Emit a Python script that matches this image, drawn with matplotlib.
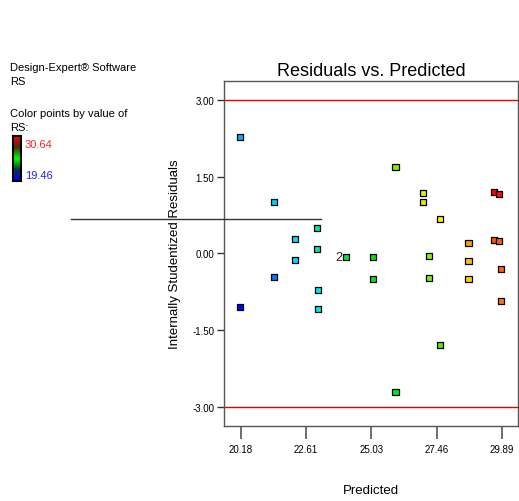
import numpy as np
import matplotlib
matplotlib.use("Agg")
import matplotlib.pyplot as plt
from matplotlib.colors import LinearSegmentedColormap
from matplotlib.lines import Line2D

plt.rcParams['font.family'] = ['Liberation Sans', 'DejaVu Sans']

# predicted value, internally studentized residual, RS value (colour)
predicted = [20.14, 20.14, 21.43, 21.43, 22.20, 22.20, 23.01, 23.01, 23.04, 23.04,
             24.09, 25.09, 25.09, 25.93, 25.93, 26.95, 26.95, 27.17, 27.17, 27.60,
             27.59, 28.64, 28.64, 28.64, 29.58, 29.76, 29.58, 29.76, 29.84, 29.84]
residuals = [2.28, -1.04, 1.00, -0.46, 0.29, -0.13, 0.50, 0.08, -0.72, -1.08,
             -0.07, -0.07, -0.49, 1.68, -2.71, 1.19, 1.00, -0.05, -0.47, 0.68,
             -1.78, 0.20, -0.15, -0.50, 1.20, 1.17, 0.27, 0.24, -0.30, -0.92]
rs_value = [21.6, 19.46, 22.0, 21.0, 22.2, 22.1, 23.3, 23.0, 22.4, 22.3,
            24.4, 25.0, 24.9, 26.5, 24.6, 27.5, 27.4, 26.6, 26.5, 27.9,
            26.0, 28.8, 28.4, 28.2, 30.64, 30.5, 29.6, 29.5, 29.5, 29.2]
rs_min, rs_max = 19.46, 30.64
x_ticks = [20.18, 22.61, 25.03, 27.46, 29.89]
y_ticks = [-3.00, -1.50, 0.00, 1.50, 3.00]
limit_lines = [3.00, -3.00]

cmap = LinearSegmentedColormap.from_list(
    'de', [(0, 0, 1), (0, 0.9, 1), (0, 0.9, 0), (1, 0.95, 0), (1, 0, 0)])
bar_cmap = LinearSegmentedColormap.from_list(
    'bar', [(0, 0, 1), (0.05, 0.2, 0.25), (0, 1, 0), (0.25, 0.2, 0.05), (1, 0, 0)])

fig = plt.figure(figsize=(5.19, 5.02), dpi=100)
ax = fig.add_axes([0.4316, 0.1488, 0.5665, 0.6885])

for y in limit_lines:
    ax.axhline(y, color='#e00000', lw=1.0, zorder=1)

ax.scatter(predicted, residuals, c=rs_value, cmap=cmap, vmin=rs_min, vmax=rs_max,
           marker='s', s=19, edgecolors='black', linewidths=0.9, zorder=3)
ax.text(24.09 - 0.12, -0.07, '2', ha='right', va='center', fontsize=9, color='#222222')

ax.set_xlim(19.56, 30.48)
ax.set_ylim(-3.375, 3.375)
ax.set_xticks(x_ticks)
ax.set_xticklabels(['%.2f' % v for v in x_ticks])
ax.set_yticks(y_ticks)
ax.set_yticklabels(['%.2f' % v for v in y_ticks])
ax.tick_params(axis='x', direction='out', length=9, width=1.2, color='#555555', labelsize=7, pad=4)
ax.tick_params(axis='y', direction='out', length=5, width=1.0, color='#333333', labelsize=7, pad=2)
for sp in ax.spines.values():
    sp.set_color('#555555')
    sp.set_linewidth(1.0)

ax.set_title('Residuals vs. Predicted', fontsize=13, pad=4)
ax.set_xlabel('Predicted', fontsize=9.5, labelpad=21)
ax.set_ylabel('Internally Studentized Residuals', fontsize=9.5, labelpad=8)

# stray horizontal line across the left panel
fig.add_artist(Line2D([71 / 519, 321 / 519], [1 - 220 / 502, 1 - 220 / 502],
                      color='#333333', lw=1.0))

# legend panel on the left
fig.text(10 / 519, 1 - 68 / 502, 'Design-Expert\u00ae Software', fontsize=8, va='center')
fig.text(10 / 519, 1 - 82 / 502, 'RS', fontsize=8, va='center')
fig.text(10 / 519, 1 - 114 / 502, 'Color points by value of', fontsize=8, va='center')
fig.text(10 / 519, 1 - 128 / 502, 'RS:', fontsize=8, va='center')
cax = fig.add_axes([13 / 519, 1 - 182 / 502, 8 / 519, 45 / 502])
cax.imshow(np.linspace(1, 0, 100).reshape(-1, 1), aspect='auto', cmap=bar_cmap)
cax.set_xticks([])
cax.set_yticks([])
for sp in cax.spines.values():
    sp.set_linewidth(1.5)
    sp.set_color('black')
fig.text(25 / 519, 1 - 145 / 502, '%.2f' % rs_max, fontsize=8, color='#ff2020', va='center')
fig.text(25 / 519, 1 - 176 / 502, '%.2f' % rs_min, fontsize=8, color='#2020ff', va='center')

fig.savefig('out.png', dpi=100)
